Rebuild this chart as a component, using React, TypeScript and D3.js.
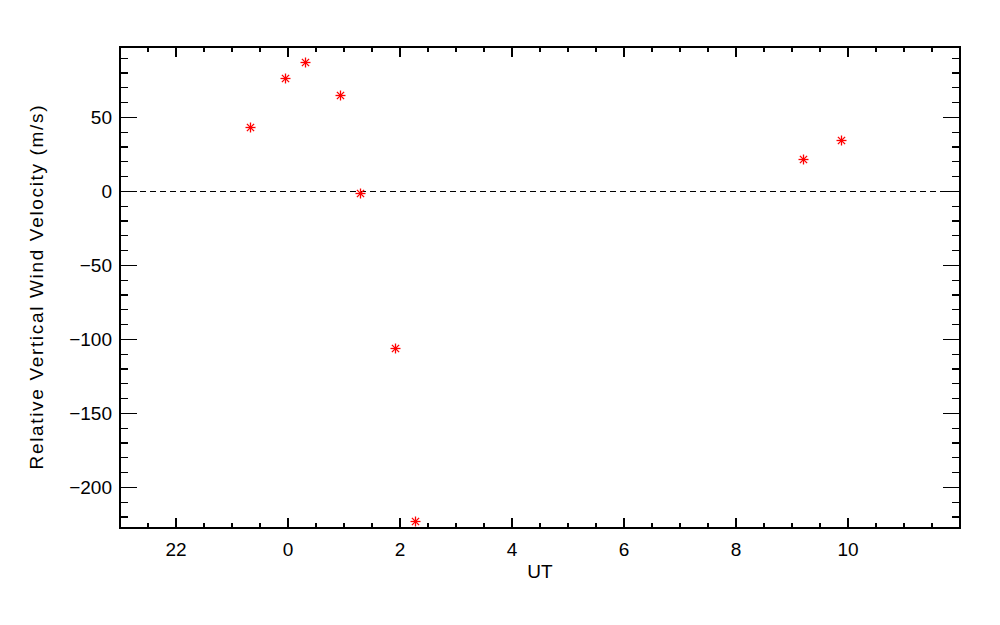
import React, { useEffect, useRef } from 'react';
import * as d3 from 'd3';

// UT hours measured continuously from the previous day (24 == 0 UT)
const utHours = [23.32, 23.95, 24.3, 24.93, 25.29, 25.91, 26.27, 33.2, 33.88];
const windVelocity = [43.2, 76.4, 87.2, 64.9, -1.4, -105.9, -223, 21.6, 34.5];

const xTickValues = [22, 24, 26, 28, 30, 32, 34];
const xTickLabels = ['22', '0', '2', '4', '6', '8', '10'];
const yTickValues = [-200, -150, -100, -50, 0, 50];

const W = 1000;
const H = 625;
const margin = { top: 47, right: 40, bottom: 97, left: 120 };
const FONT = '"Liberation Sans", Arial, sans-serif';

export default function App() {
  const svgRef = useRef<SVGSVGElement>(null);

  useEffect(() => {
    const svg = d3.select(svgRef.current);
    svg.selectAll('*').remove();

    const x = d3.scaleLinear().domain([21, 36]).range([margin.left, W - margin.right]);
    const y = d3.scaleLinear().domain([-227.5, 97.5]).range([H - margin.bottom, margin.top]);
    const [x0, x1] = x.range();
    const [y0, y1] = y.range(); // y0 bottom, y1 top

    svg.append('rect').attr('width', W).attr('height', H).attr('fill', '#fff');

    const g = svg.append('g').attr('stroke', '#000').attr('stroke-width', 1.2).attr('shape-rendering', 'crispEdges');

    // frame
    g.append('rect')
      .attr('x', x0).attr('y', y1)
      .attr('width', x1 - x0).attr('height', y0 - y1)
      .attr('fill', 'none');

    // x ticks (bottom + top), minor every half hour
    const xMinor = d3.range(21.5, 36, 0.5).filter(v => !xTickValues.includes(v));
    const xTicks = [
      ...xTickValues.map(v => ({ v, len: 10 })),
      ...xMinor.map(v => ({ v, len: 5 }))
    ];
    xTicks.forEach(t => {
      g.append('line').attr('x1', x(t.v)).attr('x2', x(t.v)).attr('y1', y0).attr('y2', y0 - t.len);
      g.append('line').attr('x1', x(t.v)).attr('x2', x(t.v)).attr('y1', y1).attr('y2', y1 + t.len);
    });

    // y ticks (left + right), minor every 10 m/s
    const yMinor = d3.range(-220, 97, 10).filter(v => !yTickValues.includes(v));
    const yTicks = [
      ...yTickValues.map(v => ({ v, len: 17 })),
      ...yMinor.map(v => ({ v, len: 8 }))
    ];
    yTicks.forEach(t => {
      g.append('line').attr('y1', y(t.v)).attr('y2', y(t.v)).attr('x1', x0).attr('x2', x0 + t.len);
      g.append('line').attr('y1', y(t.v)).attr('y2', y(t.v)).attr('x1', x1).attr('x2', x1 - t.len);
    });

    // zero reference line
    svg.append('line')
      .attr('x1', x0).attr('x2', x1)
      .attr('y1', y(0)).attr('y2', y(0))
      .attr('stroke', '#000').attr('stroke-width', 1.2)
      .attr('stroke-dasharray', '6,4')
      .attr('shape-rendering', 'crispEdges');

    // tick labels
    const labels = svg.append('g').attr('font-family', FONT).attr('font-size', 19).attr('fill', '#000');
    xTickValues.forEach((v, i) => {
      labels.append('text')
        .attr('x', x(v)).attr('y', y0 + 28)
        .attr('text-anchor', 'middle')
        .text(xTickLabels[i]);
    });
    yTickValues.forEach(v => {
      labels.append('text')
        .attr('x', x0 - 8).attr('y', y(v) + 7)
        .attr('text-anchor', 'end')
        .text(v < 0 ? '\u2212' + Math.abs(v) : String(v));
    });

    // axis titles
    labels.append('text')
      .attr('x', (x0 + x1) / 2).attr('y', y0 + 50)
      .attr('text-anchor', 'middle')
      .text('UT');
    labels.append('text')
      .attr('transform', `translate(43, ${(y0 + y1) / 2}) rotate(-90)`)
      .attr('text-anchor', 'middle')
      .attr('textLength', 364)
      .attr('lengthAdjust', 'spacing')
      .text('Relative Vertical Wind Velocity (m/s)');

    // asterisk markers
    const r = 5;
    const d = r * 0.72;
    const pts = svg.append('g').attr('stroke', '#f00').attr('stroke-width', 1.3);
    utHours.forEach((h, i) => {
      const cx = Math.round(x(h)) + 0.5;
      const cy = Math.round(y(windVelocity[i])) + 0.5;
      const m = pts.append('g').attr('transform', `translate(${cx},${cy})`);
      m.append('line').attr('x1', -r).attr('x2', r).attr('y1', 0).attr('y2', 0);
      m.append('line').attr('x1', 0).attr('x2', 0).attr('y1', -r).attr('y2', r);
      m.append('line').attr('x1', -d).attr('x2', d).attr('y1', -d).attr('y2', d);
      m.append('line').attr('x1', -d).attr('x2', d).attr('y1', d).attr('y2', -d);
      m.append('circle').attr('r', 1.8).attr('fill', '#f00').attr('stroke', 'none');
    });
  }, []);

  return (
    <div style={{ position: 'absolute', left: 0, top: 0, width: W, height: H }}>
      <svg ref={svgRef} width={W} height={H} style={{ display: 'block' }} />
    </div>
  );
}
